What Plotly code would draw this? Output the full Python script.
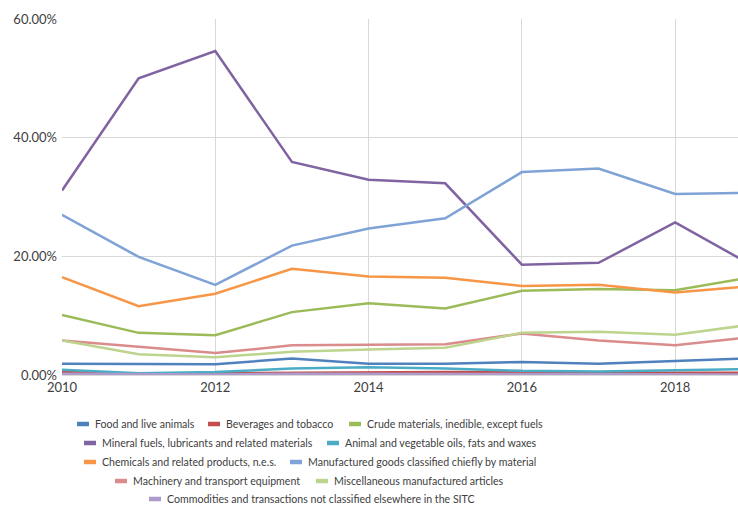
import plotly.graph_objects as go

years = [2010, 2011, 2012, 2013, 2014, 2015, 2016, 2017, 2018, 2019]

food = [1.9, 1.8, 1.8, 2.8, 1.9, 1.9, 2.2, 1.9, 2.4, 2.8]
beverages = [0.5, 0.2, 0.3, 0.4, 0.5, 0.5, 0.5, 0.4, 0.4, 0.4]
crude = [10.1, 7.1, 6.7, 10.6, 12.1, 11.2, 14.2, 14.5, 14.3, 16.5]
mineral = [31.1, 50.0, 54.6, 35.9, 32.9, 32.3, 18.6, 18.9, 25.7, 18.5]
oils = [0.9, 0.3, 0.5, 1.1, 1.3, 1.1, 0.7, 0.6, 0.8, 1.0]
chemicals = [16.5, 11.6, 13.7, 17.9, 16.6, 16.4, 15.0, 15.2, 13.9, 15.0]
manufactured = [27.0, 19.9, 15.2, 21.8, 24.7, 26.4, 34.2, 34.8, 30.5, 30.7]
machinery = [5.8, 4.8, 3.7, 5.0, 5.1, 5.2, 7.0, 5.8, 5.0, 6.4]
misc = [5.8, 3.5, 3.0, 3.9, 4.3, 4.6, 7.1, 7.3, 6.8, 8.5]
commodities = [0.2, 0.1, 0.1, 0.2, 0.2, 0.2, 0.1, 0.1, 0.1, 0.1]

names = [
    "Food and live animals",
    "Beverages and tobacco",
    "Crude materials, inedible, except fuels",
    "Mineral fuels, lubricants and related materials",
    "Animal and vegetable oils, fats and waxes",
    "Chemicals and related products, n.e.s.",
    "Manufactured goods classified chiefly by material",
    "Machinery and transport equipment",
    "Miscellaneous manufactured articles",
    "Commodities and transactions not classified elsewhere in the SITC",
]
values = [food, beverages, crude, mineral, oils, chemicals, manufactured,
          machinery, misc, commodities]
colors = ["#4F81BD", "#C0504D", "#9BBB59", "#8064A2", "#4BACC6",
          "#F79646", "#7FA3D6", "#D98C8B", "#BCD48E", "#AE9BCB"]

yticks = [0, 20, 40, 60]
ytext = ["0.00%", "20.00%", "40.00%", "60.00%"]
xticks = [2010, 2012, 2014, 2016, 2018]

# plot-area geometry in pixels (for the custom centered legend)
W, H = 738, 506
L, R, T, B = 62, 0, 19, 131
PW, PH = W - L - R, H - T - B

def px(x):
    return (x - L) / PW

def py(y):
    return (H - B - y) / PH

# legend layout: (series index, symbol left x, row centre y)
legend_pos = [
    (0, 77, 424), (1, 208, 424), (2, 349, 424),
    (3, 84, 443), (4, 327, 443),
    (5, 84, 462), (6, 290, 462),
    (7, 115, 481), (8, 316, 481),
    (9, 149, 499),
]

fig = go.Figure()
for name, vals, color in zip(names, values, colors):
    fig.add_trace(go.Scatter(x=years, y=vals, mode="lines", name=name,
                             line=dict(color=color, width=2.5),
                             showlegend=False))

shapes = []
annotations = []
for idx, sx, sy in legend_pos:
    shapes.append(dict(type="line", xref="paper", yref="paper",
                       x0=px(sx), x1=px(sx + 12), y0=py(sy), y1=py(sy),
                       line=dict(color=colors[idx], width=4.5)))
    annotations.append(dict(text=names[idx], xref="paper", yref="paper",
                            x=px(sx + 16), y=py(sy), xanchor="left",
                            yanchor="middle", showarrow=False,
                            font=dict(family="Lato, sans-serif", size=10.6,
                                      color="#404040")))

fig.update_layout(
    width=W, height=H,
    margin=dict(l=L, r=R, t=T, b=B, autoexpand=False),
    paper_bgcolor="white", plot_bgcolor="white",
    font=dict(family="Lato, sans-serif", size=13, color="#404040"),
    showlegend=False,
    xaxis=dict(range=[2010, 2018.82], tickvals=xticks, showgrid=True,
               gridcolor="#D9D9D9", gridwidth=1, zeroline=False,
               showline=True, linecolor="#D9D9D9", linewidth=1,
               ticks="", tickfont=dict(size=13, color="#404040")),
    yaxis=dict(range=[0, 60], tickvals=yticks, ticktext=ytext, showgrid=True,
               gridcolor="#D9D9D9", gridwidth=1, zeroline=False, showline=False,
               ticks="", ticklabelstandoff=4, tickfont=dict(size=13, color="#404040")),
    shapes=shapes,
    annotations=annotations,
)

fig.write_html("out.html")
